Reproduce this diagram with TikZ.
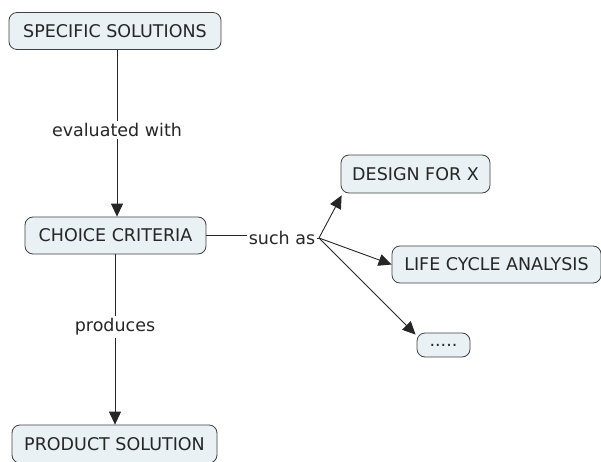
\documentclass[tikz,border=0pt]{standalone}
\usepackage{fontspec}
\setmainfont{DejaVu Sans}
\usetikzlibrary{arrows.meta}
\definecolor{conceptfill}{RGB}{233,241,244}
\begin{document}
\begin{tikzpicture}[x=1pt,y=-1pt,
  concept/.style={draw=black!75, line width=0.8pt, fill=conceptfill, rounded corners=8pt,
    inner sep=0pt, font=\fontsize{17.5}{20}\selectfont, text=black!85},
  linkword/.style={inner sep=2pt, font=\fontsize{17.5}{20}\selectfont, text=black!85},
  conn/.style={draw=black!85, line width=0.9pt},
  arr/.style={conn, -{Triangle[length=13pt,width=12pt]}}]
\useasboundingbox (0,0) rectangle (601,462);
\node[concept, minimum width=212pt, minimum height=37pt] (spec) at (115,31) {SPECIFIC SOLUTIONS};
\node[concept, minimum width=181pt, minimum height=37pt] (choice) at (115.5,235.5) {CHOICE CRITERIA};
\node[concept, minimum width=149pt, minimum height=38pt] (dfx) at (415.5,174) {DESIGN FOR X};
\node[concept, minimum width=209pt, minimum height=37pt] (lca) at (496.5,264.5) {LIFE CYCLE ANALYSIS};
\node[concept, minimum width=53pt, minimum height=24pt] (dots) at (443.5,345) {.....};
\node[concept, minimum width=205pt, minimum height=38pt] (prod) at (114.5,444) {PRODUCT SOLUTION};
\node[linkword] (eval) at (117,130) {evaluated with};
\node[linkword] (produces) at (115,327) {produces};
\node[linkword] (such) at (282,238) {such as};
\coordinate (j) at (319,238);
% specific solutions -> choice criteria
\draw[conn] (spec.south -| eval) -- (eval.north);
\draw[arr] (eval.south) -- (choice.north -| eval);
% choice criteria -> product solution
\draw[conn] (choice.south -| produces) -- (produces.north);
\draw[arr] (produces.south) -- (prod.north -| produces);
% choice criteria -> examples
\draw[conn] (choice.east) -- (choice.east -| such.west);
\draw[conn] (such.east) -- (j);
\draw[arr] (j) -- ([xshift=1pt,yshift=-2pt]dfx.south west);
\draw[arr] (j) -- (lca.west);
\draw[arr] (j) -- ([xshift=-1pt,yshift=-2pt]dots.north west);
\end{tikzpicture}
\end{document}
